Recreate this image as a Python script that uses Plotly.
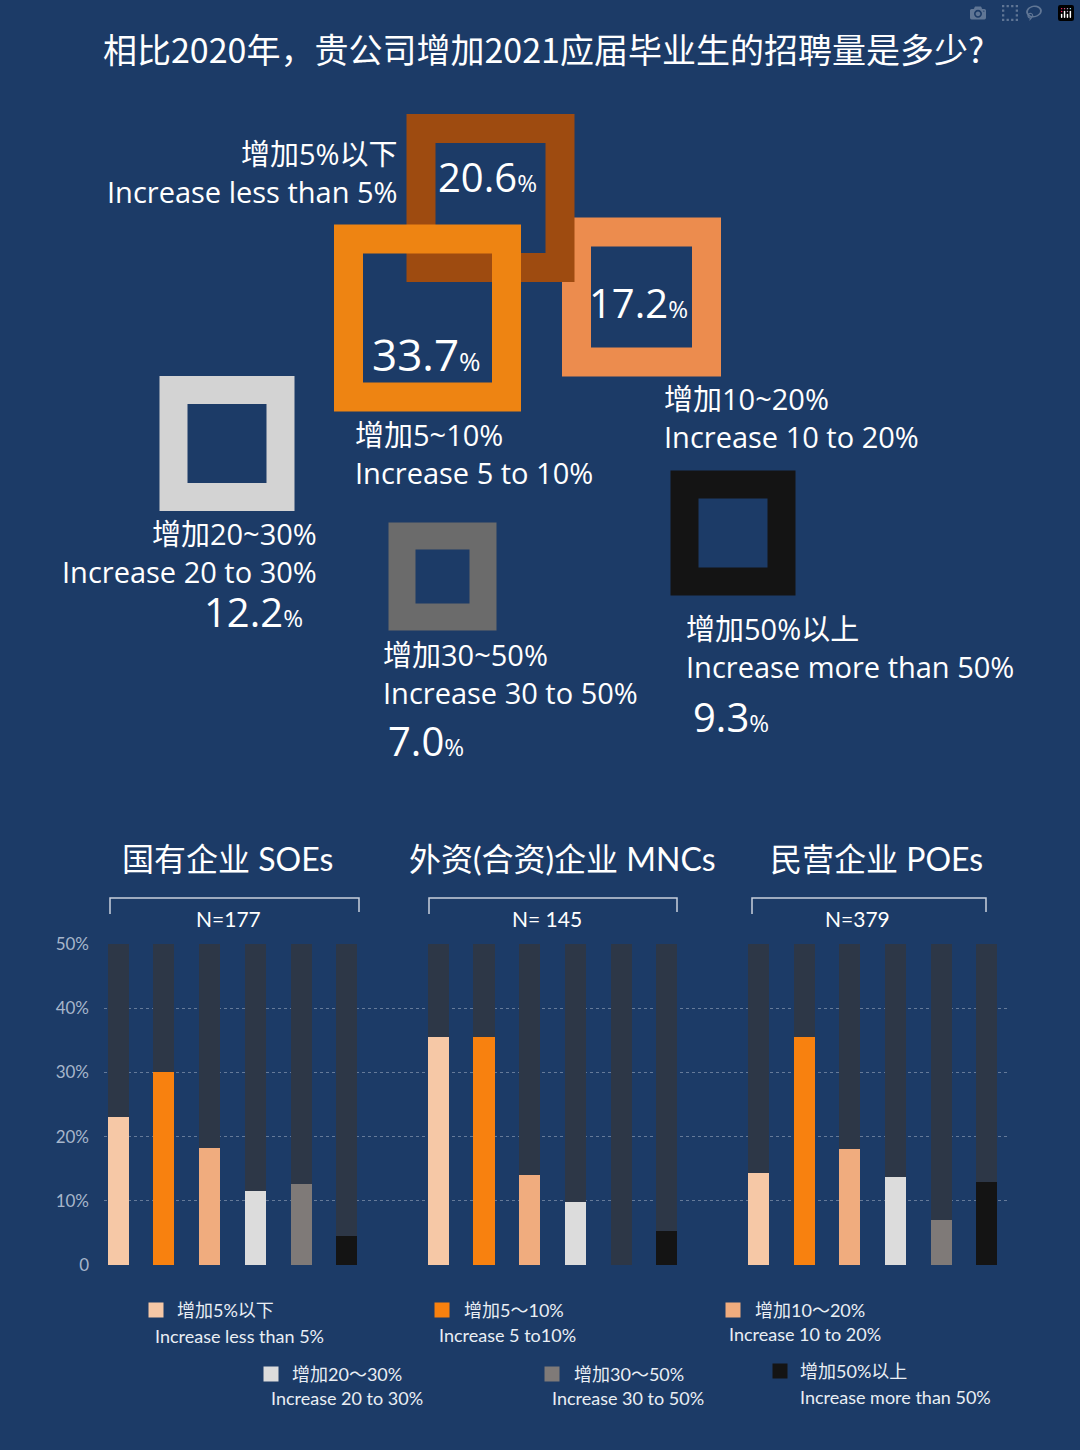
import plotly.graph_objects as go

# ---- data ----
title_text = "相比2020年，贵公司增加2021应届毕业生的招聘量是多少?"

cat_cn = ["增加5%以下", "增加5~10%", "增加10~20%", "增加20~30%", "增加30~50%", "增加50%以上"]
cat_en = ["Increase less than 5%", "Increase 5 to 10%", "Increase 10 to 20%",
          "Increase 20 to 30%", "Increase 30 to 50%", "Increase more than 50%"]
overall = [20.6, 33.7, 17.2, 12.2, 7.0, 9.3]

groups = ["国有企业 SOEs", "外资(合资)企业 MNCs", "民营企业 POEs"]
group_n = ["N=177", "N= 145", "N=379"]
soe = [23.0, 30.0, 18.3, 11.5, 12.6, 4.5]
mnc = [35.5, 35.5, 14.0, 9.8, 0.0, 5.3]
poe = [14.3, 35.5, 18.1, 13.7, 7.0, 12.9]
group_vals = [soe, mnc, poe]

legend_cn = ["增加5%以下", "增加5～10%", "增加10～20%", "增加20～30%", "增加30～50%", "增加50%以上"]
legend_en = ["Increase less than 5%", "Increase 5 to10%", "Increase 10 to 20%",
             "Increase 20 to 30%", "Increase 30 to 50%", "Increase more than 50%"]

# ---- styling / layout ----
W, H = 1080, 1450
BG = "#1c3b67"
TRACK = "#2d3747"
square_colors = ["#9e4b10", "#ee8412", "#ec8c4e", "#d3d3d3", "#6b6b6b", "#141414"]
bar_colors = ["#f6c8a6", "#f8810f", "#f0ac7e", "#dcdcdc", "#7f7a78", "#141414"]
TOPFONT = "Open Sans, Noto Sans CJK SC"
LOWFONT = "Lato, Noto Sans CJK SC"

# square centres / outer sizes / border thickness (pixels); drawn 10-20 first, then <5, then 5-10 ...
sq_order = [2, 0, 1, 3, 4, 5]
sq_cx = [490.5, 427.5, 641.5, 227, 442.5, 733]
sq_cy = [198, 318, 297, 443.5, 576.5, 533]
sq_size = [168, 187, 159, 135, 108, 125]
sq_border = [29, 29, 29, 28, 27, 28]


def px(x):
    return x / W


def py(y):
    return 1 - y / H


fig = go.Figure()

# ---- bar section ----
bar_w = 0.46
xs_all, ys_all = [], []
for g in range(3):
    for c in range(6):
        xs_all.append(g * 7 + c)
        ys_all.append(50)
fig.add_trace(go.Bar(x=xs_all, y=ys_all, width=bar_w, marker=dict(color=TRACK, line=dict(width=0)),
                     hoverinfo="skip", showlegend=False))
for c in range(6):
    fig.add_trace(go.Bar(
        x=[g * 7 + c for g in range(3)],
        y=[group_vals[g][c] for g in range(3)],
        width=bar_w,
        marker=dict(color=bar_colors[c], line=dict(width=0)),
        name=cat_cn[c], showlegend=False,
        hovertemplate=cat_cn[c] + ": %{y}%<extra></extra>",
    ))

# ---- squares (pixel canvas axis) ----
fig.add_trace(go.Scatter(
    x=[sq_cx[i] for i in sq_order],
    y=[sq_cy[i] for i in sq_order],
    mode="markers",
    marker=dict(
        symbol="square-open",
        size=[sq_size[i] - sq_border[i] for i in sq_order],
        color=[square_colors[i] for i in sq_order],
        line=dict(width=[sq_border[i] for i in sq_order]),
        opacity=1,
    ),
    text=[f"{cat_cn[i]}: {overall[i]}%" for i in sq_order],
    hoverinfo="text",
    xaxis="x2", yaxis="y2", showlegend=False,
))

# legend squares
leg_x = [156, 442, 733, 271, 552, 780]
leg_y = [1310, 1310, 1310, 1374, 1374, 1371]
fig.add_trace(go.Scatter(
    x=leg_x, y=leg_y, mode="markers",
    marker=dict(symbol="square", size=15, color=bar_colors, line=dict(width=0), opacity=1),
    hoverinfo="skip", xaxis="x2", yaxis="y2", showlegend=False,
))

annotations = []


def txt(x, y, s, size, anchor="left", color="white", family=TOPFONT):
    annotations.append(dict(x=px(x), y=py(y), xref="paper", yref="paper", text=s, showarrow=False,
                            xanchor=anchor, yanchor="middle", align=anchor if anchor != "center" else "center",
                            font=dict(size=size, color=color, family=family)))


def pct(v, small):
    return f"{v:.1f}<span style='font-size:{small}px'>%</span>"


txt(543, 48, title_text, 34, "center", family="Noto Sans CJK SC")

# two-line labels around squares (centre y of the pair)
lab_x = [400, 353, 662, 319, 381, 684]
lab_y = [172, 453, 418, 553, 673, 648]
lab_anchor = ["right", "left", "left", "right", "left", "left"]
for i in range(6):
    txt(lab_x[i], lab_y[i], cat_cn[i] + "<br>" + cat_en[i], 29, lab_anchor[i])

# percentages
txt(487, 176, pct(overall[0], 24), 40, "center")
txt(426, 354, pct(overall[1], 26), 44, "center")
txt(638, 302, pct(overall[2], 24), 40, "center")
txt(305, 611, pct(overall[3], 24), 40, "right")
txt(386, 740, pct(overall[4], 24), 40)
txt(691, 716, pct(overall[5], 24), 40)

# group headers and brackets
group_cx = [227, 562, 876]
n_cx = [228, 547, 857]
br_x0 = [110, 429, 752]
br_x1 = [359, 677, 986]
shapes = []
for g in range(3):
    txt(group_cx[g], 858, groups[g], 32, "center", family=LOWFONT)
    txt(n_cx[g], 918, group_n[g], 21, "center", family=LOWFONT)
    shapes.append(dict(type="path", xref="paper", yref="paper",
                       path=f"M{px(br_x0[g])},{py(914)} L{px(br_x0[g])},{py(898)} "
                            f"L{px(br_x1[g])},{py(898)} L{px(br_x1[g])},{py(912)}",
                       line=dict(color="#c9d1dd", width=1.5)))

# legend texts
leg_tx = [175, 462, 753, 290, 572, 798]
leg_ex = [153, 437, 727, 269, 550, 798]
leg_ey = [1336, 1335, 1334, 1398, 1398, 1397]
for i in range(6):
    txt(leg_tx[i], leg_y[i], legend_cn[i], 18, color="#e9eef4", family=LOWFONT)
    txt(leg_ex[i], leg_ey[i], legend_en[i], 18, color="#e9eef4", family=LOWFONT)

fig.update_layout(
    width=W, height=H,
    margin=dict(l=0, r=0, t=0, b=0, autoexpand=False),
    paper_bgcolor=BG, plot_bgcolor="rgba(0,0,0,0)",
    barmode="overlay", bargap=0,
    showlegend=False,
    annotations=annotations,
    shapes=shapes,
    xaxis=dict(domain=[px(104), px(1008)], range=[-0.31, 19.46], visible=False, fixedrange=True),
    yaxis=dict(domain=[py(1265), py(944)], range=[0, 50],
               tickvals=[0, 10, 20, 30, 40, 50], ticktext=["0", "10%", "20%", "30%", "40%", "50%"],
               tickfont=dict(size=17, color="#a7b6cb", family=LOWFONT),
               ticks="", ticklabelstandoff=14, showgrid=False, zeroline=False, showline=False,
               automargin=False,
               minor=dict(tickvals=[10, 20, 30, 40], showgrid=True, griddash="dot",
                          gridcolor="rgba(190,200,215,0.45)", gridwidth=1),
               fixedrange=True),
    xaxis2=dict(domain=[0, 1], range=[0, W], visible=False, fixedrange=True, anchor="y2",
                automargin=False),
    yaxis2=dict(domain=[0, 1], range=[H, 0], visible=False, fixedrange=True, anchor="x2",
                automargin=False),
)

fig.write_html("out.html", post_script="document.body.style.margin='0';document.body.style.background='" + BG + "';")
